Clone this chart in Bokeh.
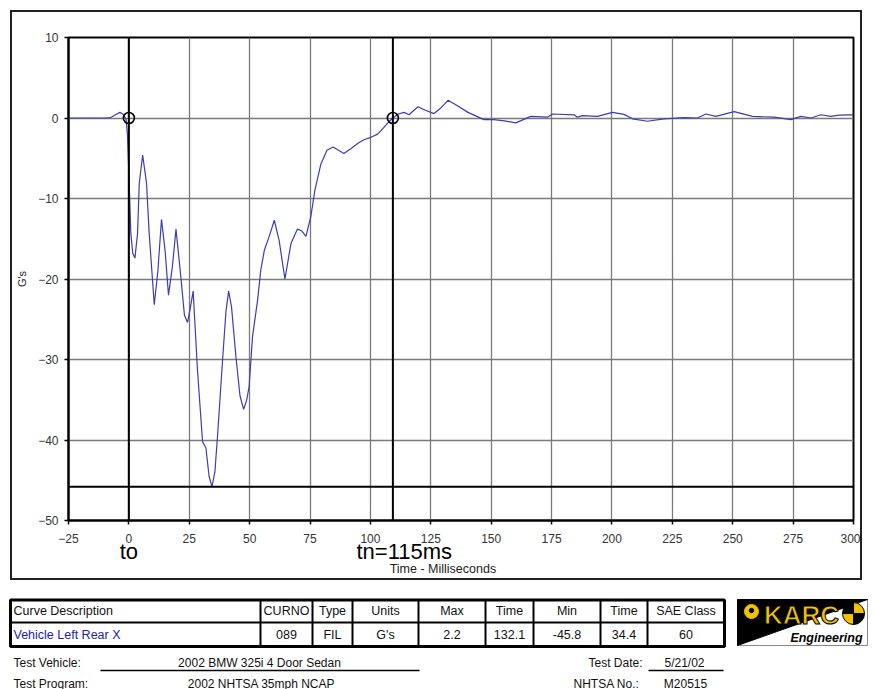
import math
from bokeh.plotting import figure
from bokeh.layouts import column
from bokeh.models import Range1d, FixedTicker, Span, LinearAxis
from bokeh.core.properties import value
from bokeh.embed import file_html
from bokeh.resources import INLINE

FONT = "Liberation Sans"

# ---------------- data ----------------
time_ms = [-25, -10, -7.5, -5.5, -3.7, -2.5, -1.2, -0.6, -0.1, 0.8, 1.6, 2.5, 3.6, 4.3, 5.7,
           7.3, 8.4, 10.5, 12.0, 13.5, 15.0, 16.4, 18.0, 19.5, 21.5, 23.0, 24.3, 25.5, 26.6,
           28.4, 30.5, 31.9, 33.2, 34.4, 35.6, 36.7, 38.8, 40.2, 41.3, 42.5, 44.3, 46.0, 47.5,
           48.8, 49.8, 51.2, 53.3, 54.6, 56.1, 58.0, 60.2, 62.2, 64.6, 67.1, 69.8, 71.5, 73.3,
           75.3, 77.0, 79.5, 82.0, 84.5, 86.8, 89.0, 92.0, 95.0, 97.3, 100.2, 103.0, 105.5,
           107.5, 109.3, 111.5, 113.9, 116.0, 117.8, 119.7, 122.5, 126.3, 129.0, 132.1, 135.0,
           140.4, 147.0, 151.0, 155.5, 160.2, 166.4, 173.3, 175.4, 184.3, 185.7, 187.8, 194.0,
           200.2, 205.0, 208.5, 214.7, 221.5, 229.9, 235.4, 238.9, 243.0, 250.6, 258.2, 267.2,
           274.1, 278.2, 282.4, 286.5, 290.6, 294.1, 300.0]
g_vals = [0, 0, 0.05, 0.4, 0.7, 0.5, -0.1, -2.0, -6.1, -14.3, -16.8, -17.4, -14.3, -8.1, -4.6,
          -8.1, -14.3, -23.2, -19.0, -12.6, -16.5, -22.0, -18.5, -13.8, -19.7, -24.5, -25.4,
          -23.5, -21.5, -31.3, -40.2, -41.0, -44.5, -45.8, -44.0, -39.5, -30.0, -24.0, -21.5,
          -23.5, -29.6, -34.5, -36.2, -35.0, -33.3, -27.1, -22.6, -18.9, -16.4, -14.8, -12.7,
          -15.2, -20.0, -15.6, -13.8, -14.0, -14.7, -12.3, -9.0, -5.7, -4.0, -3.6, -4.0, -4.4,
          -3.8, -3.1, -2.7, -2.4, -2.0, -1.2, -0.5, 0.0, 0.5, 0.7, 0.4, 0.9, 1.4, 1.0, 0.55,
          1.2, 2.2, 1.7, 0.7, -0.2, -0.2, -0.35, -0.6, 0.2, 0.1, 0.5, 0.4, 0.1, 0.3, 0.2, 0.7,
          0.45, -0.1, -0.4, -0.1, 0.05, 0.0, 0.5, 0.2, 0.8, 0.2, 0.1, -0.2, 0.2, 0.0, 0.4, 0.2,
          0.35, 0.4]

x_ticks = [-25, 0, 25, 50, 75, 100, 125, 150, 175, 200, 225, 250, 275, 300]
y_ticks = [-50, -40, -30, -20, -10, 0, 10]

t0_ms = 0
tn_line_ms = 109.3
marker_times = [t0_ms, tn_line_ms]
marker_g = [0, 0]
min_g = -45.8

event_label_ticks = [0, 114]
event_labels = {0: "to", 114: "tn=115ms"}
x_title_tick = [130]
x_title = {130: "Time - Milliseconds"}
y_title = "G's"

headers = ["Curve Description", "CURNO", "Type", "Units", "Max", "Time", "Min", "Time", "SAE Class"]
row_vals = ["Vehicle Left Rear X", "089", "FIL", "G's", "2.2", "132.1", "-45.8", "34.4", "60"]

info_left = [("Test Vehicle:", "2002 BMW 325i 4 Door Sedan"), ("Test Program:", "2002 NHTSA 35mph NCAP")]
info_right = [("Test Date:", "5/21/02"), ("NHTSA No.:", "M20515")]

# ---------------- chart ----------------
p = figure(width=848, height=566, x_range=Range1d(-25, 300), y_range=Range1d(-50, 10),
           output_backend="svg", toolbar_location=None,
           min_border_left=56, min_border_right=7, min_border_top=25, min_border_bottom=57,
           margin=(12, 0, 2, 12), styles={"outline": "2px solid #222222"})
p.frame_align = False
p.background_fill_color = "white"
p.border_fill_color = "white"
p.outline_line_color = "black"
p.outline_line_width = 2

xa = p.below[0]
ya = p.left[0]
xa.ticker = FixedTicker(ticks=x_ticks)
ya.ticker = FixedTicker(ticks=y_ticks)
p.xgrid.ticker = FixedTicker(ticks=x_ticks)
p.ygrid.ticker = FixedTicker(ticks=y_ticks)
p.grid.grid_line_color = "#7a7a7a"
p.grid.grid_line_width = 1.3

for ax in (xa, ya):
    ax.axis_line_color = "black"
    ax.axis_line_width = 2
    ax.major_tick_line_color = "black"
    ax.major_tick_line_width = 1.5
    ax.major_tick_in = 0
    ax.major_tick_out = 4
    ax.minor_tick_line_color = None
    ax.major_label_text_font = FONT
    ax.major_label_text_font_size = "12px"
    ax.major_label_text_color = "#333333"
xa.major_label_standoff = 9
ya.major_label_standoff = 6
ya.axis_label = y_title
ya.axis_label_standoff = 7
ya.axis_label_text_font = FONT
ya.axis_label_text_font_size = "11px"
ya.axis_label_text_font_style = "normal"
ya.axis_label_text_color = "#222222"
ya.axis_label_text_align = "right"

ev_axis = LinearAxis(ticker=FixedTicker(ticks=event_label_ticks), major_label_overrides=event_labels,
                     axis_line_color=None, major_tick_line_color=None, minor_tick_line_color=None,
                     major_tick_in=0, major_tick_out=0, major_label_standoff=-7,
                     major_label_text_font=FONT, major_label_text_font_size="22px",
                     major_label_text_color="black")
p.add_layout(ev_axis, "below")
tt_axis = LinearAxis(ticker=FixedTicker(ticks=x_title_tick), major_label_overrides=x_title,
                     axis_line_color=None, major_tick_line_color=None, minor_tick_line_color=None,
                     major_tick_in=0, major_tick_out=0, major_label_standoff=-5,
                     major_label_text_font=FONT, major_label_text_font_size="12.5px",
                     major_label_text_color="#222222")
p.add_layout(tt_axis, "below")

p.line(time_ms, g_vals, line_color="#3c3cb4", line_width=1.2)

p.add_layout(Span(location=t0_ms, dimension="height", line_color="black", line_width=2))
p.add_layout(Span(location=tn_line_ms, dimension="height", line_color="black", line_width=2))
p.add_layout(Span(location=min_g, dimension="width", line_color="black", line_width=2))

p.scatter(marker_times, marker_g, marker="circle", size=11, fill_color=None,
          line_color="black", line_width=1.6)

# ---------------- table / info ----------------
p2 = figure(width=877, height=109, x_range=Range1d(0, 877), y_range=Range1d(689, 580),
            output_backend="svg", toolbar_location=None, x_axis_type=None, y_axis_type=None,
            min_border=0, min_border_left=0, min_border_right=0, min_border_top=0,
            min_border_bottom=0)
p2.frame_align = False
p2.outline_line_color = None
p2.grid.visible = False
p2.background_fill_color = "white"
p2.border_fill_color = "white"

col_edges = [10, 260, 312, 352, 418, 485, 533, 600, 647, 724]
t_top, t_mid, t_bot = 599.5, 622, 646
row_h = [(t_top + t_mid) / 2, (t_mid + t_bot) / 2]

p2.segment(x0=col_edges[1:-1], y0=[t_top] * 8, x1=col_edges[1:-1], y1=[t_bot] * 8,
           line_color="black", line_width=2)
p2.segment(x0=[col_edges[0]], y0=[t_mid], x1=[col_edges[-1]], y1=[t_mid],
           line_color="black", line_width=2)
p2.quad(left=[col_edges[0]], right=[col_edges[-1]], top=[t_top], bottom=[t_bot],
        fill_color=None, line_color="black", line_width=3)

centers = [(col_edges[i] + col_edges[i + 1]) / 2 for i in range(len(headers))]
xs = [col_edges[0] + 3] + centers[1:]
aligns = ["left"] + ["center"] * (len(headers) - 1)
p2.text(x=xs, y=[row_h[0]] * len(headers), text=headers, text_align=aligns,
        text_baseline="middle", text_font=value(FONT), text_font_size="12.5px",
        text_color="#111111")
colors = ["#2323a8"] + ["#111111"] * (len(row_vals) - 1)
p2.text(x=xs, y=[row_h[1]] * len(row_vals), text=row_vals, text_align=aligns,
        text_baseline="middle", text_font=value(FONT), text_font_size="12.5px",
        text_color=colors)

info_y = [662, 683]
p2.text(x=[13, 13], y=info_y, text=[a for a, b in info_left], text_align="left",
        text_baseline="middle", text_font=value(FONT), text_font_size="12px", text_color="#111111")
p2.text(x=[259, 261], y=info_y, text=[b for a, b in info_left], text_align="center",
        text_baseline="middle", text_font=value(FONT), text_font_size="12px", text_color="#111111")
p2.text(x=[642, 639], y=info_y, text=[a for a, b in info_right], text_align="right",
        text_baseline="middle", text_font=value(FONT), text_font_size="12px", text_color="#111111")
p2.text(x=[684, 685], y=info_y, text=[b for a, b in info_right], text_align="center",
        text_baseline="middle", text_font=value(FONT), text_font_size="12px", text_color="#111111")
p2.segment(x0=[100, 648], y0=[670, 670], x1=[419, 723], y1=[670, 670],
           line_color="black", line_width=1.3)

# logo
p2.quad(left=[737], right=[867], top=[599], bottom=[645], fill_color="white",
        line_color="#888888", line_width=1)
p2.patch([737, 867, 737], [599, 599, 645], fill_color="black", line_color="black")
p2.circle(x=[751], y=[611], radius=7, fill_color="#f2c200", line_color="#f2c200")
p2.circle(x=[751], y=[610], radius=2.2, fill_color="black", line_color="black")
p2.text(x=[801], y=[614], text=["KARC"], text_align="center", text_baseline="middle",
        text_font=value(FONT), text_font_size="26px", text_font_style="bold",
        text_color="#f2c200", text_outline_color="black")
p2.wedge(x=[853] * 4, y=[613] * 4, radius=11,
         start_angle=[0, math.pi / 2, math.pi, 3 * math.pi / 2],
         end_angle=[math.pi / 2, math.pi, 3 * math.pi / 2, 2 * math.pi],
         fill_color=["#f2c200", "black", "#f2c200", "black"], line_color="black", line_width=1)
p2.text(x=[826], y=[637], text=["Engineering"], text_align="center", text_baseline="middle",
        text_font=value(FONT), text_font_size="12.5px", text_font_style="bold italic",
        text_color="black")

layout = column(p, p2, spacing=0)
open("out.html", "w").write(file_html(layout, INLINE))
